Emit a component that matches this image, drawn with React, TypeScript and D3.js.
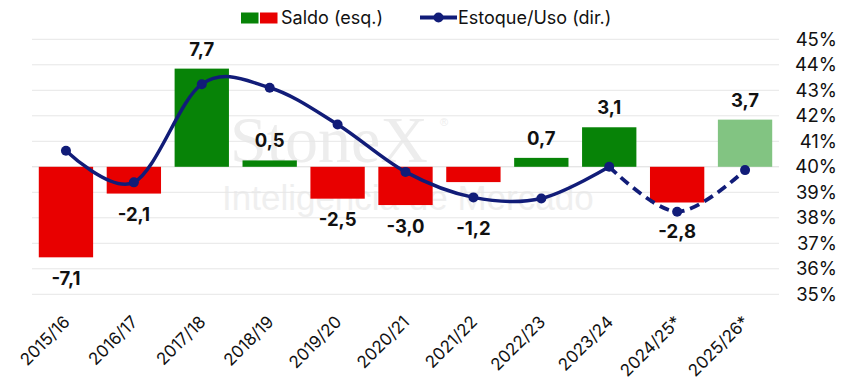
import React from "react";
import * as d3 from "d3";

const categories = [
  "2015/16", "2016/17", "2017/18", "2018/19", "2019/20", "2020/21",
  "2021/22", "2022/23", "2023/24", "2024/25*", "2025/26*",
];
const saldo = [-7.1, -2.1, 7.7, 0.5, -2.5, -3.0, -1.2, 0.7, 3.1, -2.8, 3.7];
const estoqueUso = [40.63, 39.39, 43.24, 43.1, 41.66, 39.8, 38.8, 38.76, 40.0, 38.24, 39.87];
const projected = [false, false, false, false, false, false, false, false, false, false, true];
const rightTicks = [35, 36, 37, 38, 39, 40, 41, 42, 43, 44, 45];
const solidCount = 9; // first 9 points solid, rest dashed (projection)

const W = 850;
const H = 383;
const FONT = "Inter, 'DejaVu Sans', 'Liberation Sans', Arial, sans-serif";
const GREEN = "#078307";
const RED = "#e80000";
const LIGHT_GREEN = "#82c482";
const NAVY = "#111c78";

// manual label nudges (extra px downward for negative labels)
const labelNudge: Record<string, number> = { "2021/22": 25, "2024/25*": 8 };

export default function App() {
  const x = d3.scaleBand<string>().domain(categories).range([32, 779]).paddingInner(0.2).paddingOuter(0.1);
  const yL = d3.scaleLinear().domain([-10, 10]).range([294.3, 39.3]);
  const yR = d3.scaleLinear().domain([35, 45]).range([294.3, 39.3]);
  const cx = (c: string) => (x(c) as number) + x.bandwidth() / 2;

  const pts: [number, number][] = categories.map((c, i) => [cx(c), yR(estoqueUso[i])]);
  const lineGen = d3.line<[number, number]>().curve(d3.curveCatmullRom.alpha(0));
  const solidPath = lineGen(pts.slice(0, solidCount)) || "";
  const dashPath = lineGen(pts.slice(solidCount - 1)) || "";

  return (
    <svg width={W} height={H} style={{ position: "absolute", left: 0, top: 0, background: "#fff" }}>
      {/* watermark */}
      <text x={230} y={162} fontFamily="'Liberation Serif', 'Times New Roman', serif" fontSize={66} fill="#ededed">StoneX</text>
      <text x={440} y={126} fontFamily="'Liberation Sans', Arial, sans-serif" fontSize={11} fill="#ededed">®</text>
      <text x={222} y={210} fontFamily="'Liberation Sans', Arial, sans-serif" fontSize={35} fill="#efefef">Inteligência de Mercado</text>

      {/* gridlines */}
      {rightTicks.map((t) => (
        <line key={t} x1={32} x2={779} y1={yR(t)} y2={yR(t)} stroke={t === 40 ? "#dcdcdc" : "#e6e6e6"} strokeWidth={1} />
      ))}

      {/* right axis labels */}
      {rightTicks.map((t) => (
        <text key={t} x={837} y={yR(t)} dy="0.36em" textAnchor="end" fontFamily={FONT} fontSize={18.5} fill="#111">{`${t}%`}</text>
      ))}

      {/* bars */}
      {categories.map((c, i) => {
        const v = saldo[i];
        const y0 = yL(0);
        const y1 = yL(v);
        const fill = projected[i] ? LIGHT_GREEN : v >= 0 ? GREEN : RED;
        return (
          <rect key={c} x={x(c)} width={x.bandwidth()} y={Math.min(y0, y1)} height={Math.abs(y1 - y0)} fill={fill} />
        );
      })}

      {/* line */}
      <path d={solidPath} fill="none" stroke={NAVY} strokeWidth={3.5} />
      <path d={dashPath} fill="none" stroke={NAVY} strokeWidth={3.8} strokeDasharray="10,6" />
      {pts.map((p, i) => (
        <circle key={i} cx={p[0]} cy={p[1]} r={5} fill={NAVY} />
      ))}

      {/* bar labels */}
      {categories.map((c, i) => {
        const v = saldo[i];
        const yy = v >= 0 ? yL(v) - 13 : yL(v) + 27.5 + (labelNudge[c] || 0);
        return (
          <text key={c} x={cx(c)} y={yy} textAnchor="middle" fontFamily={FONT} fontWeight="bold" fontSize={18.5} fill="#111">
            {v.toFixed(1).replace(".", ",")}
          </text>
        );
      })}

      {/* x labels */}
      {categories.map((c) => (
        <text key={c} transform={`translate(${cx(c) + 5},323) rotate(-45)`} textAnchor="end" fontFamily={FONT} fontSize={17} fill="#111">{c}</text>
      ))}

      {/* legend */}
      <rect x={241} y={12.5} width={17.5} height={11} fill={GREEN} />
      <rect x={260} y={12.5} width={17.5} height={11} fill={RED} />
      <text x={281} y={24} fontFamily={FONT} fontSize={18} fill="#111">Saldo (esq.)</text>
      <line x1={420} x2={457} y1={17.5} y2={17.5} stroke={NAVY} strokeWidth={4} />
      <circle cx={438.5} cy={17.5} r={5} fill={NAVY} />
      <text x={458} y={24} fontFamily={FONT} fontSize={18} fill="#111">Estoque/Uso (dir.)</text>
    </svg>
  );
}
